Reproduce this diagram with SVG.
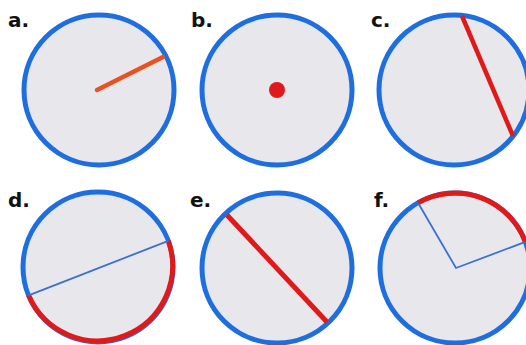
<svg xmlns="http://www.w3.org/2000/svg" width="526" height="345" viewBox="0 0 526 345">
<style>
.circ{fill:#e8e8ec;stroke:#1e6ee0;stroke-width:5}
.lbl{font-family:"DejaVu Sans",Verdana,sans-serif;font-weight:bold;font-size:20px;fill:#111}
.red{stroke:#e01a1a;fill:none}
.thin{stroke:#3c6fd2;stroke-width:1.8;fill:none}
</style>
<rect width="526" height="345" fill="#ffffff"/>
<g id="a">
<circle class="circ" cx="99" cy="90" r="75"/>
<line x1="97" y1="90" x2="163" y2="57" stroke="#ea5020" stroke-width="4.5" stroke-linecap="round"/>
<text class="lbl" x="8" y="27">a.</text>
</g>
<g id="b">
<circle class="circ" cx="277" cy="90" r="75"/>
<circle cx="277" cy="90" r="8" fill="#e01a1a"/>
<text class="lbl" x="191" y="27">b.</text>
</g>
<g id="c">
<circle class="circ" cx="454" cy="90" r="75"/>
<line class="red" x1="462" y1="16" x2="513" y2="136" stroke-width="4.5"/>
<text class="lbl" x="371" y="27">c.</text>
</g>
<g id="d">
<circle class="circ" cx="98" cy="267" r="75"/>
<path class="red" d="M168.3 240.9 A75 75 0 0 1 28.6 295.3" stroke-width="5"/>
<line class="thin" x1="28.6" y1="295.3" x2="168.3" y2="240.9"/>
<text class="lbl" x="8" y="207">d.</text>
</g>
<g id="e">
<circle class="circ" cx="277" cy="268" r="75"/>
<line class="red" x1="227" y1="215" x2="327" y2="322" stroke-width="5"/>
<text class="lbl" x="190" y="207">e.</text>
</g>
<g id="f">
<circle class="circ" cx="455" cy="268" r="75"/>
<path class="red" d="M418 202.8 A75 75 0 0 1 525.3 241.9" stroke-width="5"/>
<polyline class="thin" points="418,202.8 456,268 525.3,241.9"/>
<text class="lbl" x="374" y="207">f.</text>
</g>
</svg>
